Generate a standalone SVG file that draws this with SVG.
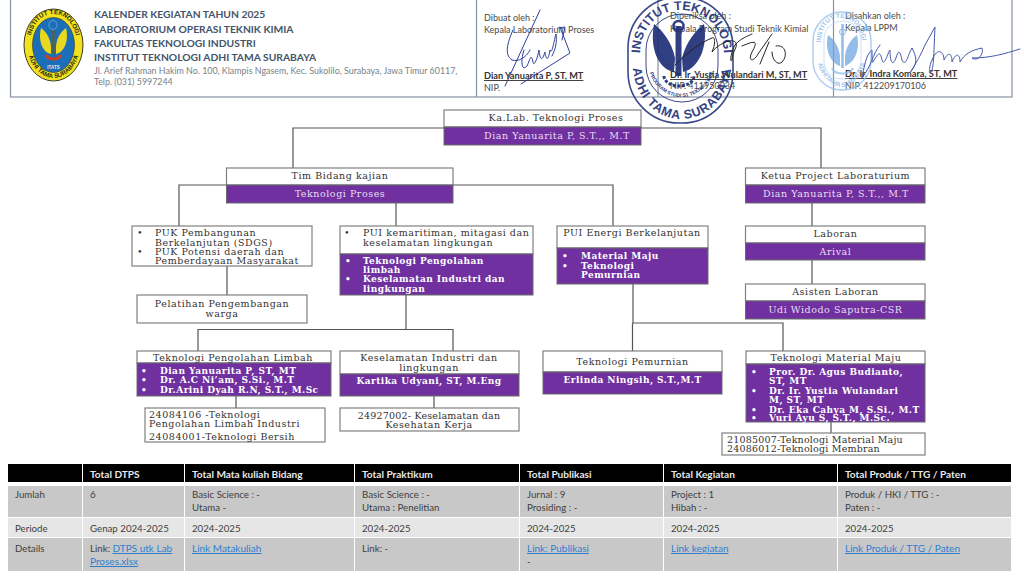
<svg xmlns="http://www.w3.org/2000/svg" width="1024" height="577" viewBox="0 0 1024 577">
<style>
text{font-family:"DejaVu Serif","Liberation Serif",serif;font-size:9.5px;letter-spacing:.55px;fill:#333}
.m{text-anchor:middle}
.w{fill:#e9dff2}
.d{font-weight:bold;font-size:9px;letter-spacing:.45px;fill:#fff}
.c{letter-spacing:.2px}
.box{fill:#fff;stroke:#808080;stroke-width:1.2}
.pur{fill:#7030a0;stroke:#6a6a6a;stroke-width:1}
.con{fill:none;stroke:#555;stroke-width:1.2}
.h,.h2,.n,.t,.th,.link{font-family:Lato,"Noto Sans",sans-serif;letter-spacing:0}
.h{font-size:10.3px;font-weight:bold;fill:#44546a}
.h2{font-size:8.9px;fill:#7a7f86}
.n{font-size:9px;fill:#4a4a4a}
.nb{font-weight:bold;font-size:9.2px;fill:#333;text-decoration:underline}
.th{font-size:10.1px;font-weight:bold;fill:#e8e8e8}
.t{font-size:9.7px;fill:#404040}
.link{font-size:10px;fill:#2f7fd0;text-decoration:underline}
.s1{fill:none;stroke:#2f3d9c;stroke-width:1;stroke-linecap:round}
.s2{fill:none;stroke:#222;stroke-width:1;stroke-linecap:round}
.s3{fill:none;stroke:#4358a8;stroke-width:1;stroke-linecap:round}
.hd{fill:#000}.g1{fill:#c8c8c8}.g2{fill:#e6e6e6}
.st{font-family:"Liberation Sans",sans-serif;font-weight:bold;letter-spacing:0;text-anchor:middle}
</style>
<defs>
<path id="lgT" d="M30,47 C30,25 41,14 53.5,14 C66,14 77,25 77,47"/>
<path id="lgB" d="M27,46 C28,64 40,78 53.5,78 C67,78 79,64 80,46"/>
<path id="dsT" d="M640,56 C640,25 660,10 681,10 C702,10 724,25 724,56"/>
<path id="dsB" d="M633,69 C636,100 658,119 681,119 C705,119 728,100 731,69"/>
<path id="dsI" d="M647,60 C649,84 665,97 681,97 C698,97 714,84 717,60"/>
<path id="lsT" d="M821,46 C820,26 830,18 841,18 C853,18 862,28 862,44"/>
<path id="lsB" d="M816,56 C819,74 830,87 842,87 C853,87 864,74 867,56"/>
</defs>

<g id="header">
<rect x="10.5" y="-2" width="1001.5" height="99" fill="#fff" stroke="#8592a6" stroke-width="1.2"/>
<path d="M476.5,0V97M658,0V97M833.5,0V97" fill="none" stroke="#8592a6" stroke-width="1.2"/>
<text class="h" x="94" y="18">KALENDER KEGIATAN TAHUN 2025</text>
<text class="h" x="94" y="32.500">LABORATORIUM OPERASI TEKNIK KIMIA</text>
<text class="h" x="94" y="47">FAKULTAS TEKNOLOGI INDUSTRI</text>
<text class="h" x="94" y="61">INSTITUT TEKNOLOGI ADHI TAMA SURABAYA</text>
<text class="h2" x="94" y="74">Jl. Arief Rahman Hakim No. 100, Klampis Ngasem, Kec. Sukolilo, Surabaya, Jawa Timur 60117,</text>
<text class="h2" x="94" y="85">Telp. (031) 5997244</text>
<text class="n" x="484" y="21">Dibuat oleh :</text>
<text class="n" x="484" y="33">Kepala Laboratorium Proses</text>
<text class="n nb" x="484" y="79">Dian Yanuarita P, ST, MT</text>
<text class="n" x="484" y="91">NIP.</text>
<text class="n" x="670" y="19">Diperiksa oleh :</text>
<text class="n" x="670" y="32">Kepala Program Studi Teknik Kimial</text>
<text class="n nb" x="670" y="78">Dr. Ir. Yustia Wulandari M, ST, MT</text>
<text class="n" x="670" y="89">NIP. 411950034</text>
<text class="n" x="845" y="19">Disahkan oleh :</text>
<text class="n" x="845" y="31">Kepala LPPM</text>
<text class="n nb" x="845" y="77">Dr. Ir. Indra Komara, ST, MT</text>
<text class="n" x="845" y="89">NIP. 412209170106</text>
</g>

<g id="logo">
<ellipse cx="53.500" cy="45" rx="29.500" ry="36" fill="#f2e21e" stroke="#3a3a22" stroke-width="1"/>
<ellipse cx="53.500" cy="45" rx="21" ry="27.500" fill="#1b6fb8" stroke="#333" stroke-width=".6"/>
<path d="M51,54 C42,52 38,40 41,28 C47,32 51,40 51,48Z M56,54 C65,52 69,40 66,28 C60,32 56,40 56,48Z" fill="#e8d81e"/>
<path d="M53.500,30V54" stroke="#7a5a10" stroke-width="2"/>
<path d="M46,55 A8 6 0 0 0 61,55" fill="none" stroke="#c8402a" stroke-width="3"/>
<ellipse cx="53" cy="25" rx="4" ry="4.500" fill="none" stroke="#7fb0d8" stroke-width=".7"/>
<text class="st" style="font-size:4.500px;fill:#e8e8e8" x="53.500" y="69">ITATS</text>
<text class="st" style="font-size:6.300px;fill:#2a2a10"><textPath href="#lgT" startOffset="50%">INSTITUT TEKNOLOGI</textPath></text>
<text class="st" style="font-size:6.300px;fill:#2a2a10"><textPath href="#lgB" startOffset="50%">ADHI TAMA SURABAYA</textPath></text>
</g>

<g id="stamp-blue" opacity=".75">
<rect x="813" y="12" width="58" height="78" rx="29" fill="none" stroke="#8fbdec" stroke-width="1.4"/>
<rect x="824" y="21" width="37" height="58" rx="18" fill="none" stroke="#a8cdf2" stroke-width=".8"/>
<path d="M840,66 C829,62 825,48 828,35 C834,39 839,47 840,56Z M845,66 C856,62 860,48 857,35 C851,39 846,47 845,56Z" fill="#6fa6e2"/>
<path d="M842.500,24V68" stroke="#6fa6e2" stroke-width="2.500"/>
<circle cx="842.500" cy="32" r="3" fill="none" stroke="#6fa6e2"/>
<path d="M832,68 A11 8 0 0 0 853,68" fill="none" stroke="#8fbdec" stroke-width="2"/>
<text class="st" style="font-size:6.500px;fill:#7fb2ea"><textPath href="#lsT" startOffset="50%">INSTITUT TEKNOLOGI</textPath></text>
<text class="st" style="font-size:6.500px;fill:#7fb2ea"><textPath href="#lsB" startOffset="50%">ADHITAMA SURABAYA</textPath></text>
</g>

<g id="connectors">
<path class="con" d="M444,128H293V168M641,128H821V168"/>
<path class="con" d="M226,185H179V226M453,185H613V226"/>
<path class="con" d="M396,203V226M227,266V295"/>
<path class="con" d="M406,295V329.500M198,351V329.500H453V351"/>
<path class="con" d="M633,284V323M632.500,323V351M632.500,323H783V351"/>
<path class="con" d="M812,203V226M812,260V284"/>
<path class="con" d="M236,396V408M434,396V408M831,422V433"/>
</g>

<g id="node-kalab">
<rect class="box" x="444" y="110" width="197" height="17"/><rect class="pur" x="444" y="127" width="197" height="18"/>
<text class="m" x="556" y="121">Ka.Lab. Teknologi Proses</text>
<text class="m w" x="557" y="138.500">Dian Yanuarita P, S.T.,, M.T</text>
</g>
<g id="node-tim">
<rect class="box" x="226.500" y="168" width="226.500" height="17"/><rect class="pur" x="226.500" y="185" width="226.500" height="18"/>
<text class="m" x="340" y="179">Tim Bidang kajian</text>
<text class="m w" x="340" y="196.500">Teknologi Proses</text>
</g>
<g id="node-ketua">
<rect class="box" x="745.500" y="168" width="179.500" height="17"/><rect class="pur" x="745.500" y="185" width="179.500" height="18"/>
<text class="m" x="835.500" y="179">Ketua Project Laboraturium</text>
<text class="m w" x="836" y="196.500">Dian Yanuarita P, S.T.,, M.T</text>
</g>
<g id="node-laboran">
<rect class="box" x="745.500" y="226" width="179.500" height="17"/><rect class="pur" x="745.500" y="243" width="179.500" height="17"/>
<text class="m" x="835.500" y="237">Laboran</text>
<text class="m w" x="835.500" y="254.500">Arival</text>
</g>
<g id="node-asisten">
<rect class="box" x="745.500" y="284" width="179.500" height="17"/><rect class="pur" x="745.500" y="301" width="179.500" height="18"/>
<text class="m" x="835.500" y="295">Asisten Laboran</text>
<text class="m w" x="835.500" y="312.500">Udi Widodo Saputra-CSR</text>
</g>
<g id="node-puk">
<rect class="box" x="132" y="226" width="180" height="40"/>
<text x="137" y="236">•</text><text x="155" y="236">PUK Pembangunan</text>
<text x="155" y="245.500">Berkelanjutan (SDGS)</text>
<text x="137" y="255">•</text><text x="155" y="255">PUK Potensi daerah dan</text>
<text x="155" y="264">Pemberdayaan Masyarakat</text>
</g>
<g id="node-pelatihan">
<rect class="box" x="137" y="295" width="170" height="28"/>
<text class="m" x="222" y="307">Pelatihan Pengembangan</text>
<text class="m" x="222" y="317">warga</text>
</g>
<g id="node-pui-kemaritiman">
<rect class="box" x="340" y="226" width="193" height="28"/><rect class="pur" x="340" y="254" width="193" height="41"/>
<text x="344" y="236">•</text><text x="363" y="236">PUI kemaritiman, mitagasi dan</text>
<text x="363" y="246">keselamatan lingkungan</text>
<text class="d" x="345" y="264">•</text><text class="d" x="363" y="264">Teknologi Pengolahan</text>
<text class="d" x="363" y="273">limbah</text>
<text class="d" x="345" y="282">•</text><text class="d" x="363" y="282">Keselamatan Industri dan</text>
<text class="d" x="363" y="292">lingkungan</text>
</g>
<g id="node-pui-energi">
<rect class="box" x="557" y="226" width="151" height="22"/><rect class="pur" x="557" y="248" width="151" height="36"/>
<text class="m" x="632" y="236">PUI Energi Berkelanjutan</text>
<text class="d" x="562" y="259">•</text><text class="d" x="581" y="259">Material Maju</text>
<text class="d" x="562" y="268.500">•</text><text class="d" x="581" y="268.500">Teknologi</text>
<text class="d" x="581" y="278">Pemurnian</text>
</g>
<g id="node-limbah">
<rect class="box" x="137" y="351" width="194" height="12"/><rect class="pur" x="137" y="363" width="194" height="33"/>
<text class="m" x="233" y="361">Teknologi Pengolahan Limbah</text>
<text class="d" x="141" y="374">•</text><text class="d" x="160" y="374">Dian Yanuarita P, ST, MT</text>
<text class="d" x="141" y="383">•</text><text class="d" x="160" y="383">Dr. A.C Ni’am, S.Si., M.T</text>
<text class="d" x="141" y="393">•</text><text class="d" x="160" y="393">Dr.Arini Dyah R.N, S.T., M.Sc</text>
</g>
<g id="node-limbah-mk">
<rect class="box" x="145" y="408" width="180" height="34"/>
<text x="149" y="418">24084106 -Teknologi</text>
<text x="149" y="427">Pengolahan Limbah Industri</text>
<text x="149" y="440">24084001-Teknologi Bersih</text>
</g>
<g id="node-keselamatan">
<rect class="box" x="340" y="351" width="179" height="23"/><rect class="pur" x="340" y="374" width="179" height="22"/>
<text class="m" x="429" y="361">Keselamatan Industri dan</text>
<text class="m" x="429" y="371">lingkungan</text>
<text class="m d" x="429" y="384">Kartika Udyani, ST, M.Eng</text>
</g>
<g id="node-keselamatan-mk">
<rect class="box" x="340" y="408" width="179" height="23"/>
<text class="m c" x="429" y="419">24927002- Keselamatan dan</text>
<text class="m" x="429" y="428">Kesehatan Kerja</text>
</g>
<g id="node-pemurnian">
<rect class="box" x="543" y="351" width="179" height="21"/><rect class="pur" x="543" y="372" width="179" height="22"/>
<text class="m" x="632.500" y="365">Teknologi Pemurnian</text>
<text class="m d" x="632.500" y="383">Erlinda Ningsih, S.T.,M.T</text>
</g>
<g id="node-material">
<rect class="box" x="746" y="351" width="179" height="13"/><rect class="pur" x="746" y="364" width="179" height="58"/>
<text class="m" x="836" y="361">Teknologi Material Maju</text>
<text class="d" x="751" y="375">•</text><text class="d" x="769" y="375">Pror. Dr. Agus Budianto,</text>
<text class="d" x="769" y="384">ST, MT</text>
<text class="d" x="751" y="394">•</text><text class="d" x="769" y="394">Dr. Ir. Yustia Wulandari</text>
<text class="d" x="769" y="403">M, ST, MT</text>
<text class="d" x="751" y="412.500">•</text><text class="d" x="769" y="412.500">Dr. Eka Cahya M, S.Si., M.T</text>
<text class="d" x="751" y="421">•</text><text class="d" x="769" y="421">Vuri Ayu S, S.T., M.Sc.</text>
</g>
<g id="node-material-mk">
<rect class="box" x="722" y="433" width="203" height="22"/>
<text class="c" x="727" y="443">21085007-Teknologi Material Maju</text>
<text class="c" x="727" y="452">24086012-Teknologi Membran</text>
</g>

<g id="stamp-dark" opacity=".92">
<rect x="628" y="-3" width="105" height="126" rx="51" fill="none" stroke="#2b3a80" stroke-width="1.6"/>
<rect x="646" y="14" width="72" height="88" rx="36" fill="none" stroke="#2b3a80" stroke-width="1"/>
<path d="M674,72 C656,68 650,45 654,24 C662,30 672,42 675,58Z M683,72 C700,68 708,45 704,24 C696,30 686,42 682,58Z" fill="#1e2f78"/>
<path d="M678.500,26V76" stroke="#1e2f78" stroke-width="6"/>
<circle cx="678.500" cy="26" r="5" fill="none" stroke="#1e2f78" stroke-width="2.500"/>
<path d="M664,76 A15 10 0 0 0 694,76" fill="none" stroke="#1e2f78" stroke-width="3" stroke-dasharray="3 1.500"/>
<text class="st" style="font-size:12.500px;fill:#24337a"><textPath href="#dsT" startOffset="50%">INSTITUT TEKNOLOGI</textPath></text>
<text class="st" style="font-size:12.500px;fill:#24337a;letter-spacing:.8px"><textPath href="#dsB" startOffset="50%">ADHI TAMA SURABAYA</textPath></text>
<text class="st" style="font-size:5px;fill:#24337a"><textPath href="#dsI" startOffset="50%">PROGRAM STUDI S1 TEKNIK KIMIA</textPath></text>
</g>

<g id="signatures">
<path class="s1" d="M540,10 L505,86 M513,30 C505,48 506,56 512,60 C518,62 526,58 530,50 M524,50 C520,62 522,72 527,66 C530,60 531,52 533,62 C534,68 538,56 539,50 C540,60 542,62 545,52 C546,60 548,62 550,50 C552,56 554,40 556,34 C557,42 556,48 552,56 M560,27 L570,53 L521,84 M558,28 L565,27 L562,40"/>
<path class="s2" d="M675,65 C690,50 702,42 712,38 C716,36 715,46 712,52 C720,42 734,38 736,43 C738,47 732,52 732,60 C730,64 730,54 735,45 C741,38 748,36 752,34 M742,46 C752,42 760,38 752,52 C747,62 754,62 758,54 L772,34 M769,42 L760,64 M776,46 C786,44 788,56 782,62 C778,66 772,60 772,52"/>
<path class="s3" d="M880,45 C872,55 872,65 862,78 C866,56 868,54 872,50 C872,60 872,66 874,60 C878,54 880,50 882,60 C884,68 888,52 890,50 C890,60 892,68 896,58 C898,50 900,50 902,60 C906,68 908,54 912,48 C916,56 918,62 912,70 C906,78 918,62 925,45 L935,27 C934,46 934,64 932,70 C930,76 928,68 932,60 C938,46 944,52 944,60 C948,52 952,52 952,62 C956,52 960,54 960,62 C964,54 972,50 982,48 C984,54 978,62 972,58 C990,58 1004,54 1020,49"/>
</g>

<g id="table">
<rect class="hd" x="8" y="464" width="74" height="18"/><rect class="hd" x="83" y="464" width="101" height="18"/><rect class="hd" x="185" y="464" width="169" height="18"/><rect class="hd" x="355" y="464" width="164" height="18"/><rect class="hd" x="520" y="464" width="143" height="18"/><rect class="hd" x="664" y="464" width="173" height="18"/><rect class="hd" x="838" y="464" width="173" height="18"/>
<rect class="g1" x="8" y="486" width="74" height="31"/><rect class="g1" x="83" y="486" width="101" height="31"/><rect class="g1" x="185" y="486" width="169" height="31"/><rect class="g1" x="355" y="486" width="164" height="31"/><rect class="g1" x="520" y="486" width="143" height="31"/><rect class="g1" x="664" y="486" width="173" height="31"/><rect class="g1" x="838" y="486" width="173" height="31"/>
<rect class="g2" x="8" y="518" width="74" height="19"/><rect class="g2" x="83" y="518" width="101" height="19"/><rect class="g2" x="185" y="518" width="169" height="19"/><rect class="g2" x="355" y="518" width="164" height="19"/><rect class="g2" x="520" y="518" width="143" height="19"/><rect class="g2" x="664" y="518" width="173" height="19"/><rect class="g2" x="838" y="518" width="173" height="19"/>
<rect class="g1" x="8" y="538" width="74" height="33"/><rect class="g1" x="83" y="538" width="101" height="33"/><rect class="g1" x="185" y="538" width="169" height="33"/><rect class="g1" x="355" y="538" width="164" height="33"/><rect class="g1" x="520" y="538" width="143" height="33"/><rect class="g1" x="664" y="538" width="173" height="33"/><rect class="g1" x="838" y="538" width="173" height="33"/>
<text class="th" x="90" y="478">Total DTPS</text><text class="th" x="192" y="478">Total Mata kuliah Bidang</text><text class="th" x="362" y="478">Total Praktikum</text><text class="th" x="527" y="478">Total Publikasi</text><text class="th" x="671" y="478">Total Kegiatan</text><text class="th" x="845" y="478">Total Produk / TTG / Paten</text>
<text class="t" x="15" y="498">Jumlah</text><text class="t" x="90" y="498">6</text><text class="t" x="192" y="498">Basic Science : -</text><text class="t" x="192" y="511">Utama -</text><text class="t" x="362" y="498">Basic Science : -</text><text class="t" x="362" y="511">Utama :  Penelitian</text><text class="t" x="527" y="498">Jurnal : 9</text><text class="t" x="527" y="511">Prosiding : -</text><text class="t" x="671" y="498">Project :  1</text><text class="t" x="671" y="511">Hibah : -</text><text class="t" x="845" y="498">Produk / HKI / TTG : -</text><text class="t" x="845" y="511">Paten : -</text>
<text class="t" x="15" y="532">Periode</text><text class="t" x="90" y="532">Genap 2024-2025</text><text class="t" x="192" y="532">2024-2025</text><text class="t" x="362" y="532">2024-2025</text><text class="t" x="527" y="532">2024-2025</text><text class="t" x="671" y="532">2024-2025</text><text class="t" x="845" y="532">2024-2025</text>
<text class="t" x="15" y="552">Details</text><text class="t" x="90" y="552">Link: <tspan class="link">DTPS utk Lab</tspan></text><text class="link" x="90" y="565">Proses.xlsx</text><text class="link" x="192" y="552">Link Matakuliah</text><text class="t" x="362" y="552">Link:  -</text><text class="link" x="527" y="552">Link: Publikasi</text><text class="t" x="527" y="565">-</text><text class="link" x="671" y="552">Link kegiatan</text><text class="link" x="845" y="552">Link Produk / TTG / Paten</text>
</g>
</svg>
